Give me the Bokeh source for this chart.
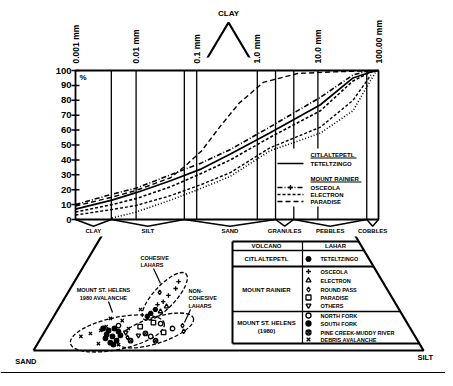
import numpy as np
from bokeh.plotting import figure
from bokeh.models import Range1d, LinearScale
from bokeh.core.properties import value
from bokeh.embed import file_html
from bokeh.resources import INLINE

# ---------------- grain-size curves (size in mm, cumulative % finer)
paradise_mm = [0.001, 0.004, 0.01, 0.037, 0.065, 0.12, 0.25, 0.5, 1.25, 4.6, 16, 100]
paradise_pct = [9, 15, 19.5, 28, 36, 46, 63, 78, 92, 98, 99, 100]
teteltzingo_mm = [0.001, 0.004, 0.01, 0.037, 0.12, 0.36, 1.6, 11, 38, 75, 100]
teteltzingo_pct = [7, 13, 18, 26, 34, 44, 58, 77, 95, 99, 100]
osceola_mm = [0.001, 0.004, 0.01, 0.037, 0.12, 0.36, 1.6, 11, 38, 70]
osceola_pct = [10, 17, 21, 30, 38, 47, 62, 82, 97, 100]
electron_mm = [0.001, 0.004, 0.01, 0.037, 0.12, 0.36, 1.6, 11, 38, 75, 100]
electron_pct = [5, 10, 14, 22, 31, 40, 55, 73, 93, 99, 100]
other1_mm = [0.004, 0.01, 0.037, 0.12, 0.36, 1.6, 11, 38, 60, 90]
other1_pct = [1, 5, 13, 21, 29, 46, 58, 73, 87, 99]
other2_mm = [0.001, 0.004, 0.01, 0.037, 0.12, 0.36, 1.6, 11, 38, 75]
other2_pct = [3, 6.7, 9.4, 16, 23.5, 31.5, 48, 62, 80, 97]

size_ticks = [0.001, 0.01, 0.1, 1, 10, 100]
size_labels = ["0.001 mm", "0.01 mm", "0.1 mm", "1.0 mm", "10.0 mm", "100.00 mm"]
grid_mm = [0.0039, 0.01, 0.0625, 0.1, 1, 2, 4, 10, 64]
pct_ticks = list(range(0, 101, 10))
class_names = ["CLAY", "SILT", "SAND", "GRANULES", "PEBBLES", "COBBLES"]
class_edges = [0.001, 0.0039, 0.0625, 2, 4, 64, 100]

# ---------------- ternary data (silt %, clay %; sand = rest)
osceola_silt = [27.0, 26.7, 25.8, 24.8, 26.2]
osceola_clay = [18.9, 21.0, 14.9, 14.0, 16.8]
teteltzingo_silt = [24.4, 25.0, 24.0]
teteltzingo_clay = [11.3, 12.5, 10.4]
electron_silt = [26.6, 27.4]
electron_clay = [11.9, 13.4]
roundpass_silt = [23.5, 22.1, 34.4, 35.6]
roundpass_clay = [17.7, 4.0, 7.6, 5.8]
paradise_silt = [30.6, 26.5, 23.7]
paradise_clay = [5.5, 8.5, 7.3]
others_silt = [24.6, 20.9]
others_clay = [4.6, 5.5]
northfork_silt = [27.9, 28.5, 32.3, 18.0]
northfork_clay = [4.3, 8.2, 6.7, 7.6]
southfork_silt = [16.2, 18.1, 19.8, 16.6, 17.4, 20.0, 18.5, 16.3, 18.9, 19.6, 14.5]
southfork_clay = [6.1, 4.3, 3.0, 3.7, 6.7, 4.6, 2.4, 4.9, 5.8, 1.8, 6.7]
pinecreek_silt = [26.1, 23.4, 29.8]
pinecreek_clay = [5.2, 3.0, 3.0]
debris_silt = [10.0, 12.0, 14.2, 14.8, 18.2, 21.2, 15.6, 15.0, 20.9, 21.0]
debris_clay = [4.3, 5.2, 6.1, 9.8, 9.1, 12.5, 2.1, 7.3, 1.8, 6.7]

# fields (centre silt %, clay %, screen width, height, angle deg)
field_names = ["cohesive", "avalanche", "noncohesive"]
field_silt = [25.4, 18.9, 28.2]
field_clay = [16.5, 5.2, 6.1]
field_w = [62, 96, 80]
field_h = [22, 32, 26]
field_ang = [47, 12, 18]

FONT = value("Liberation Sans")
W, H = 445, 378

# main (grain-size) scale anchors in frame pixels
X_LO, X_HI = 75, 378
Y0, Y100 = 219, 70
ppd = (X_HI - X_LO) / 5.0
x_start = 10 ** (-3 - X_LO / ppd)
x_end = 10 ** (2 + (W - X_HI) / ppd)
ppu = (Y0 - Y100) / 100.0
y_start = -(H - Y0) / ppu
y_end = 100 + Y100 / ppu

# ternary anchors
TX0, TX1 = 33, 423
TY0, TY1 = 350, 22
tpx = (TX1 - TX0) / 100.0
tpy = (TY0 - TY1) / 100.0

p = figure(width=W, height=H, x_axis_type="log",
           x_range=Range1d(x_start, x_end), y_range=Range1d(y_start, y_end),
           x_axis_location=None, y_axis_location=None, min_border=0,
           outline_line_color=None, toolbar_location=None, output_backend="svg",
           background_fill_color="white")
p.xgrid.visible = False
p.ygrid.visible = False
p.extra_x_ranges = {"tx": Range1d(-TX0 / tpx, 100 + (W - TX1) / tpx), "px": Range1d(0, W)}
p.extra_y_ranges = {"ty": Range1d(-(H - TY0) / tpy, 100 + TY1 / tpy), "py": Range1d(H, 0)}
p.extra_x_scales = {"tx": LinearScale(), "px": LinearScale()}
p.extra_y_scales = {"ty": LinearScale(), "py": LinearScale()}

T = dict(x_range_name="tx", y_range_name="ty")
P = dict(x_range_name="px", y_range_name="py")


def txt(xs, ys, texts, size, kw_rng=None, **kw):
    kw.setdefault("text_color", "black")
    if kw_rng:
        kw.update(kw_rng)
    p.text(x=xs, y=ys, text=texts, text_font=FONT, text_font_style="bold",
           text_font_size=size, **kw)


def tern(silt, clay):
    s = np.asarray(silt, float)
    c = np.asarray(clay, float)
    return s + c / 2.0, c


# ---------------- ternary triangle (SAND, CLAY, SILT)
p.line([0, 50, 100, 0], [0, 100, 0, 0], line_color="black", line_width=2.2, **T)

# white mask where the grain-size chart sits over the triangle
p.quad(left=[0], right=[W], top=[57], bottom=[236], fill_color="white",
       line_color=None, **P)

txt([50], [100], ["CLAY"], "8px", T, text_align="center", text_baseline="bottom", y_offset=-5)
txt([0], [0], ["SAND"], "7.5px", T, text_align="right", text_baseline="top", x_offset=3, y_offset=6)
txt([100], [0], ["SILT"], "7.5px", T, text_align="left", text_baseline="top", x_offset=-6, y_offset=2)

# fields
fx, fy = tern(field_silt, field_clay)
p.ellipse(x=fx, y=fy, width=field_w, height=field_h, width_units="screen",
          height_units="screen", angle=np.radians(field_ang), fill_color=None,
          line_color="black", line_width=1.3, line_dash="4 2", **T)

# scatter series
series = [
    (teteltzingo_silt, teteltzingo_clay, "hex", True),
    (osceola_silt, osceola_clay, "cross", False),
    (electron_silt, electron_clay, "triangle", False),
    (roundpass_silt, roundpass_clay, "diamond", False),
    (paradise_silt, paradise_clay, "square", False),
    (others_silt, others_clay, "inverted_triangle", False),
    (northfork_silt, northfork_clay, "circle", False),
    (southfork_silt, southfork_clay, "circle", True),
    (pinecreek_silt, pinecreek_clay, "circle_x", False),
    (debris_silt, debris_clay, "x", False),
]
for s, c, m, filled in series:
    xx, yy = tern(s, c)
    p.scatter(x=xx, y=yy, marker=m, size=4.5, line_color="black", line_width=1.3,
              fill_color="black" if filled else "white", **T)

# field labels
txt([140, 140], [257, 264], ["COHESIVE", "LAHARS"], "5.5px", P, text_baseline="middle")
txt([103, 103], [289, 297], ["MOUNT ST. HELENS", "1980 AVALANCHE"], "5.5px", P,
    text_align="center", text_baseline="middle")
txt([188, 188, 188], [290, 297, 305], ["NON-", "COHESIVE", "LAHARS"], "5.5px", P,
    text_baseline="middle")
p.segment(x0=[153, 108, 190], y0=[268, 301, 309], x1=[160, 112, 184], y1=[283, 312, 322],
          line_color="black", line_width=1.2, **P)

# ---------------- table
def side_x(Y):
    clay = (350 - Y) / 3.28
    return 33 + 3.9 * (100 - clay / 2.0)

rows_y = [241, 250, 266, 311, 343]
rows_w = [2, 1.5, 2, 1.5, 2]
for Y, w in zip(rows_y, rows_w):
    p.segment(x0=[232], y0=[Y], x1=[side_x(Y)], y1=[Y], line_color="black", line_width=w, **P)
p.segment(x0=[232, 302], y0=[241, 241], x1=[232, 302], y1=[343, 343],
          line_color="black", line_width=[2, 1.2], **P)
txt([266, 335], [245.5, 245.5], ["VOLCANO", "LAHAR"], "6px", P, text_align="center", text_baseline="middle")
txt([266, 266, 266, 266], [258.5, 289, 322, 330],
    ["CITLALTEPETL", "MOUNT RAINIER", "MOUNT ST. HELENS", "(1980)"], "6px", P,
    text_align="center", text_baseline="middle")
entry_y = [258.5, 271, 280, 289, 297, 305, 315, 323, 332, 339]
entry_names = ["TETELTZINGO", "OSCEOLA", "ELECTRON", "ROUND PASS", "PARADISE", "OTHERS",
               "NORTH FORK", "SOUTH FORK", "PINE CREEK-MUDDY RIVER", "DEBRIS AVALANCHE"]
for (s, c, m, filled), Y in zip(series, entry_y):
    p.scatter(x=[308], y=[Y], marker=m, size=5, line_color="black", line_width=1.3,
              fill_color="black" if filled else "white", **P)
txt([320] * 10, entry_y, entry_names, "5.5px", P, text_baseline="middle")

# page rule at bottom
p.segment(x0=[0], y0=[372], x1=[W], y1=[372], line_color="black", line_width=1, **P)

# ---------------- grain-size chart
p.segment(x0=grid_mm, y0=[0] * len(grid_mm), x1=grid_mm, y1=[100] * len(grid_mm),
          line_color="black", line_width=1.3)

curves = [
    (paradise_mm, paradise_pct, "5 3", 1.4),
    (teteltzingo_mm, teteltzingo_pct, "solid", 1.7),
    (osceola_mm, osceola_pct, "5 2 1 2", 1.6),
    (electron_mm, electron_pct, "3 2", 1.6),
    (other1_mm, other1_pct, "1 2", 1.6),
    (other2_mm, other2_pct, "3 2", 1.4),
]
for xs, ys, dash, w in curves:
    p.line(xs, ys, line_color="black", line_width=w, line_dash=dash)

# frame
p.line([0.001, 0.001, 100, 100, 0.001], [0, 100, 100, 0, 0], line_color="black", line_width=1.8)

# class brackets
gm = [np.sqrt(a * b) for a, b in zip(class_edges[:-1], class_edges[1:])]
p.multi_line(xs=[[a, g, b] for a, g, b in zip(class_edges[:-1], gm, class_edges[1:])],
             ys=[[0, -4.5, 0]] * len(gm), line_color="black", line_width=1.5)
txt(gm, [-4.5] * len(gm), class_names, "6px", text_align="center", text_baseline="top", y_offset=2)

# y axis
p.scatter(x=[0.001] * len(pct_ticks), y=pct_ticks, marker="dash", size=8, line_color="black", line_width=1.5)
txt([0.001] * len(pct_ticks), pct_ticks, [str(t) for t in pct_ticks], "9.5px",
    text_align="right", text_baseline="middle", x_offset=-4)
txt([0.001], [100], ["%"], "8px", text_align="left", text_baseline="top", x_offset=4, y_offset=2)

# top size labels
txt(size_ticks, [100] * len(size_ticks), size_labels, "8.5px", angle=np.pi / 2,
    text_align="left", text_baseline="middle", y_offset=-7)

# legend inside chart
p.quad(left=[285], right=[362], top=[148], bottom=[206], fill_color="white", line_color=None, **P)
txt([310, 310], [154, 178], ["CITLALTEPETL", "MOUNT RAINIER"], "6px", P, text_baseline="middle")
p.segment(x0=[310, 310], y0=[157.5, 181.5], x1=[356, 361], y1=[157.5, 181.5],
          line_color="black", line_width=1, **P)
leg_y = [163, 187, 194, 201]
leg_names = ["TETELTZINGO", "OSCEOLA", "ELECTRON", "PARADISE"]
leg_dash = ["solid", "5 2 1 2", "3 2", "5 3"]
for Y, d in zip(leg_y, leg_dash):
    p.line([277, 303], [Y, Y], line_color="black", line_width=1.5, line_dash=d, **P)
p.scatter(x=[290], y=[187], marker="cross", size=5, line_color="black", line_width=1.3, **P)
txt([310] * 4, leg_y, leg_names, "6px", P, text_baseline="middle")

open("out.html", "w").write(file_html(p, INLINE))
